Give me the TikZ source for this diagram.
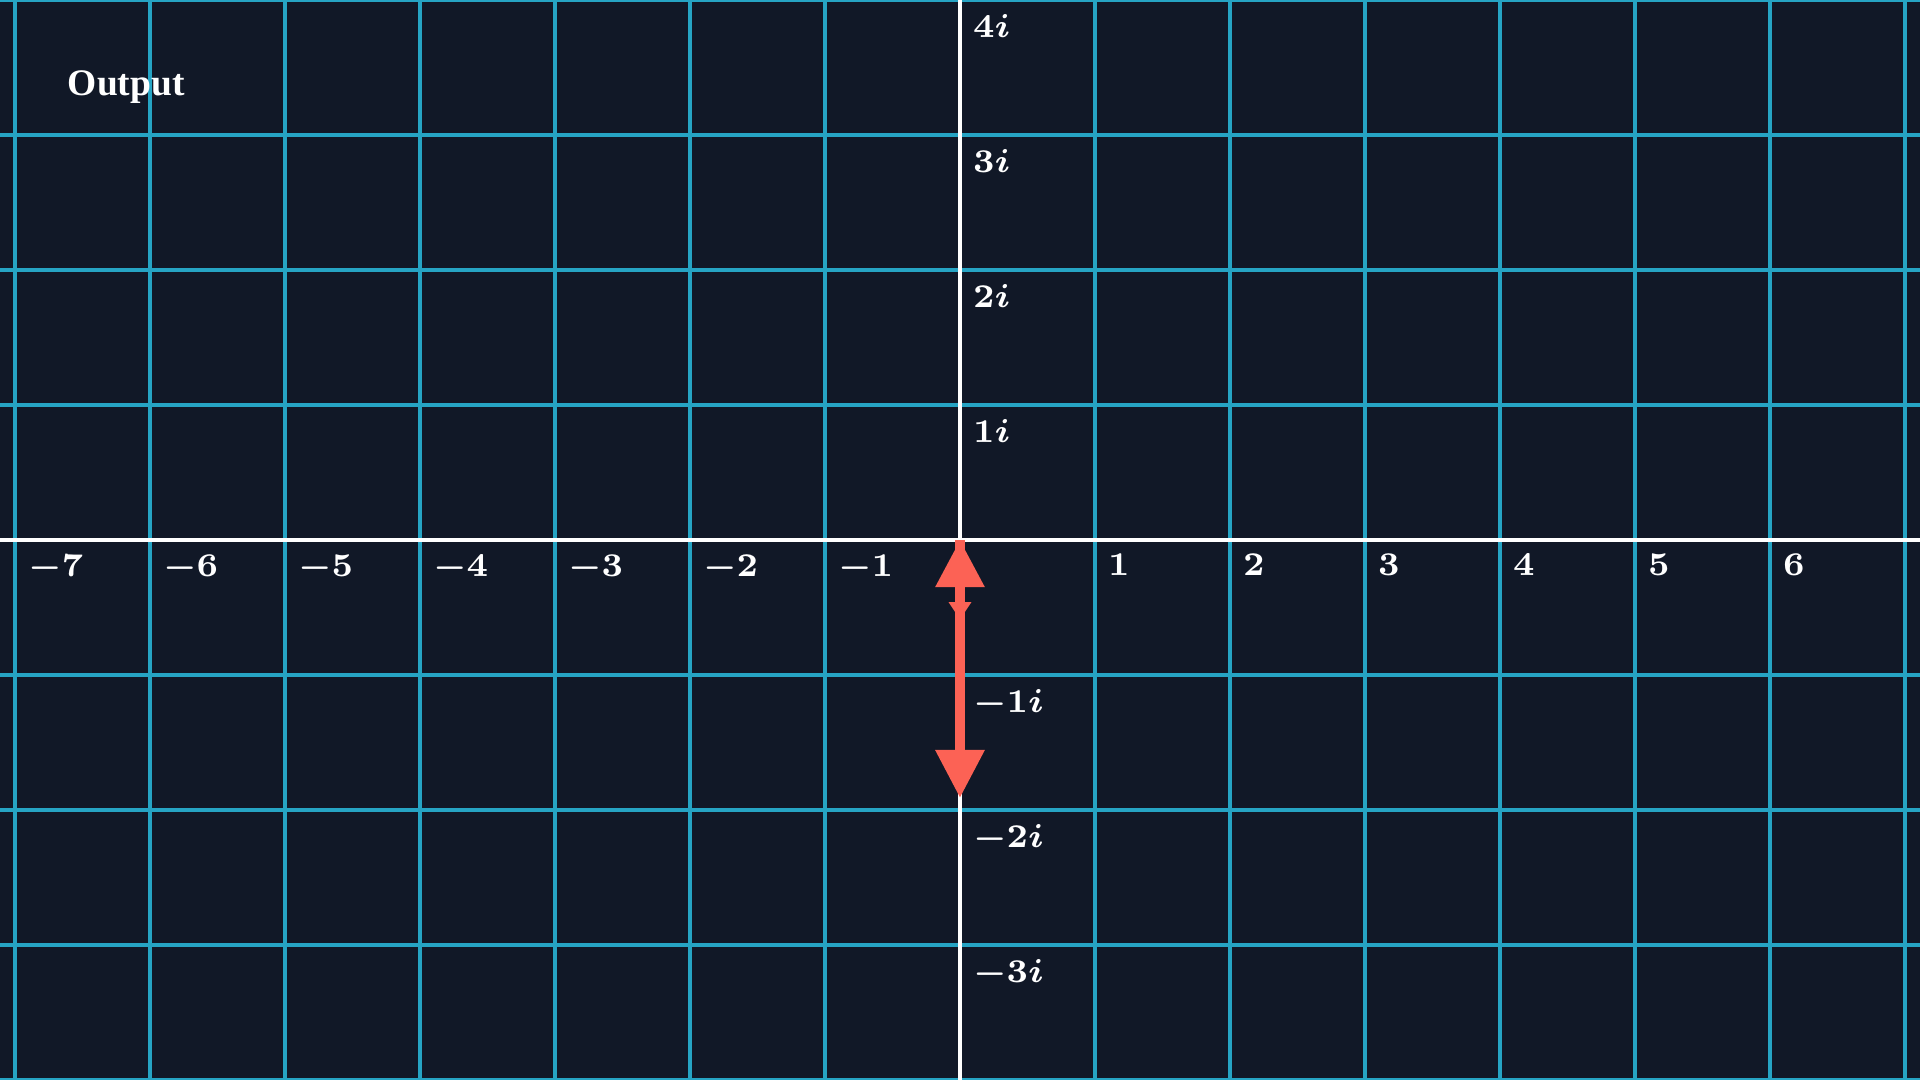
\documentclass[tikz,border=0pt]{standalone}
\usepackage{fontspec}
\newfontfamily\titlefont{Liberation Serif}
\usetikzlibrary{arrows.meta}

\definecolor{bgnavy}{RGB}{17,24,39}
\definecolor{gridcyan}{RGB}{38,164,196}
\definecolor{vecred}{RGB}{252,98,85}

\begin{document}
\begin{tikzpicture}[
  % Grid Styles
  gridline/.style={draw=gridcyan, line width=0.65pt},
  axisline/.style={draw=white, line width=0.65pt},
  % Label Styles
  relabel/.style={anchor=north west, inner sep=0pt, text=white, font=\fontsize{7.5}{9}\selectfont\boldmath, xshift=0.09cm, yshift=-0.1cm},
  imlabel/.style={anchor=north west, inner sep=0pt, text=white, font=\fontsize{7.5}{9}\selectfont\boldmath, xshift=0.09cm, yshift=-0.1cm},
  titlelabel/.style={anchor=base west, inner sep=0pt, text=white, font=\fontsize{7.9}{10}\selectfont\titlefont\bfseries},
  % Arrow Styles
  vecarrow/.style={vecred, line width=1.9pt, {Triangle[width=0.35cm,length=0.35cm]}-{Triangle[width=0.35cm,length=0.355cm]}},
  smallhead/.style={vecred, line width=1.9pt, -{Triangle[width=0.16cm,length=0.13cm]}},
]

% Background and Clip
\fill[bgnavy] (-7.1111,-4) rectangle (7.1111,4);
\clip (-7.1111,-4) rectangle (7.1111,4);

% Complex Plane Grid
\foreach \x in {-7,...,7}
  \draw[gridline] (\x,-4) -- (\x,4);
\foreach \y in {-4,...,4}
  \draw[gridline] (-7.12,\y) -- (7.12,\y);

\draw[axisline] (-7.12,0) -- (7.12,0);
\draw[axisline] (0,-4) -- (0,4);

% Axis Labels
\foreach \x in {-7,-6,-5,-4,-3,-2,-1,1,2,3,4,5,6,7}
  \node[relabel] (re\x) at (\x,0) {$\x$};
\foreach \y in {-3,-2,-1,1,2,3,4}
  \node[imlabel] (im\y) at (0,\y) {$\y i$};

\node[titlelabel] (title) at (-6.615,3.296) {Output};

% Output Vector
\coordinate (O) at (0,0);
\coordinate (Vmid) at (0,-0.59);
\coordinate (Vtip) at (0,-1.91);

\draw[smallhead] (O) -- (Vmid);
\draw[vecarrow] (O) -- (Vtip);

\end{tikzpicture}
\end{document}
